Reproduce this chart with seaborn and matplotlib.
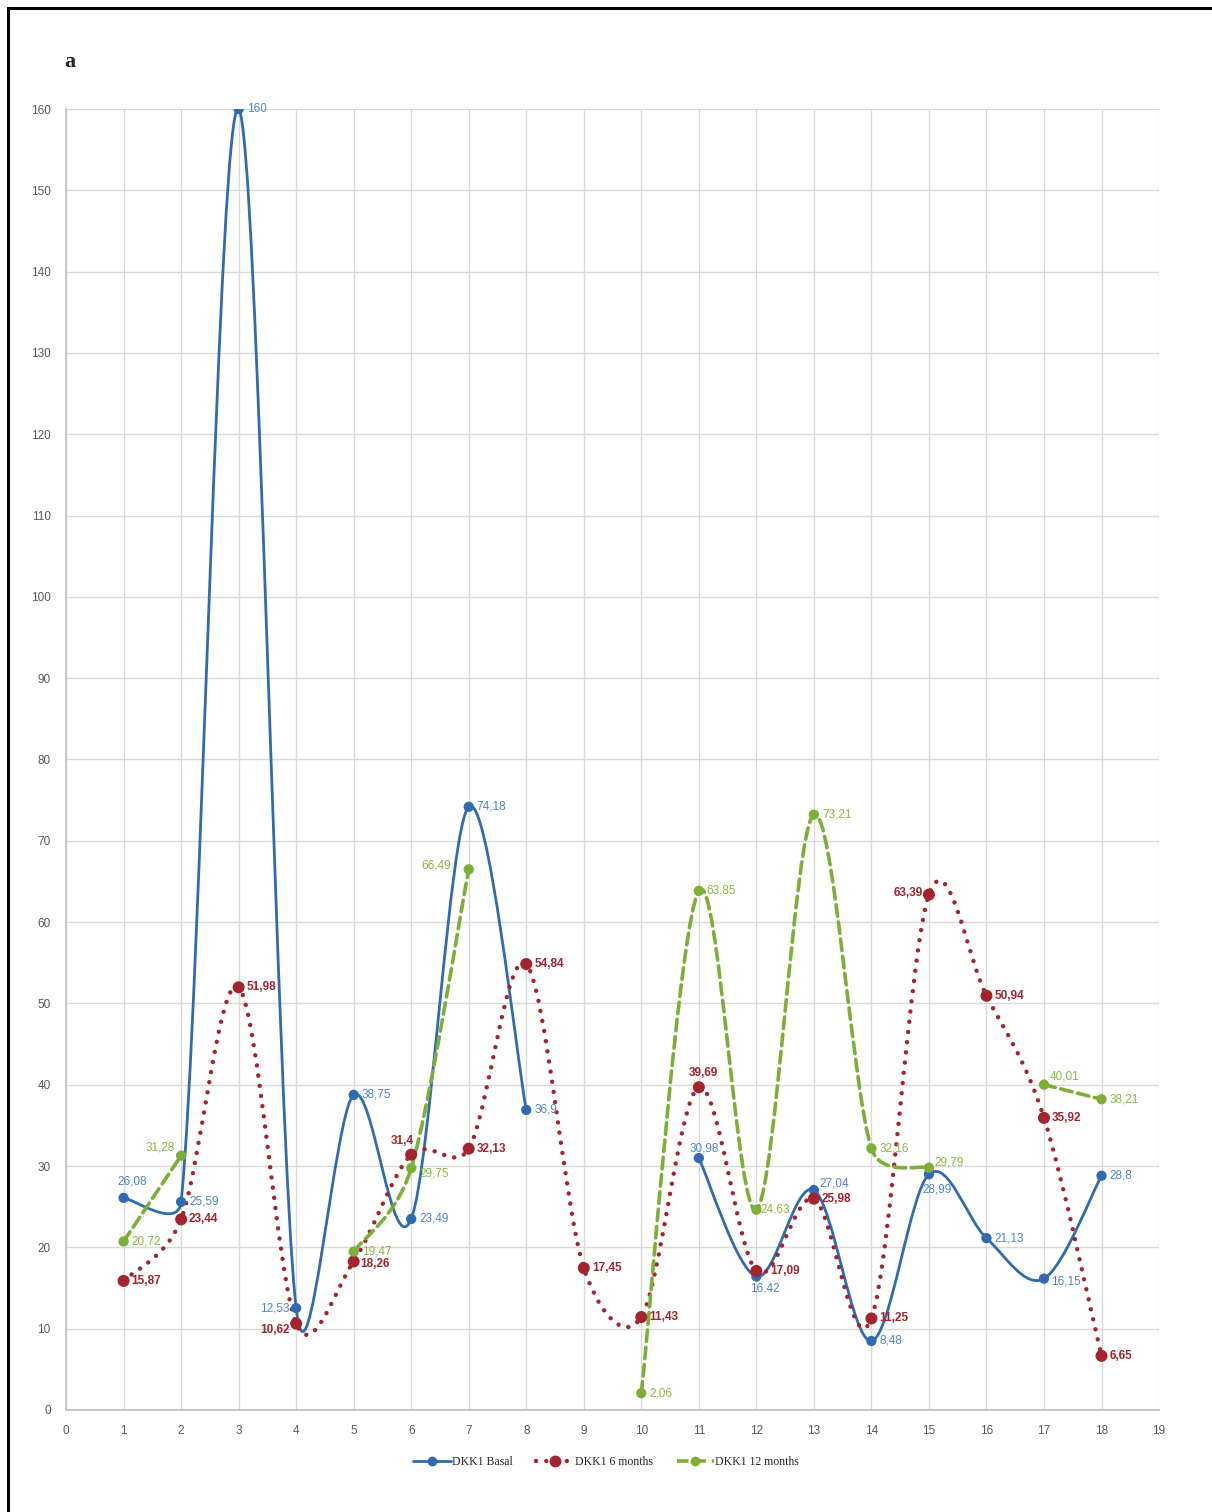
import numpy as np
import pandas as pd
import matplotlib
matplotlib.use('Agg')
import matplotlib.pyplot as plt
import seaborn as sns
from matplotlib.path import Path
from matplotlib.patches import PathPatch, Rectangle
from matplotlib.lines import Line2D

patients = list(range(1, 19))
basal = [26.08, 25.59, 160, 12.53, 38.75, 23.49, 74.18, 36.9, np.nan, np.nan,
         30.98, 16.42, 27.04, 8.48, 28.99, 21.13, 16.15, 28.8]
six_months = [15.87, 23.44, 51.98, 10.62, 18.26, 31.4, 32.13, 54.84, 17.45, 11.43,
              39.69, 17.09, 25.98, 11.25, 63.39, 50.94, 35.92, 6.65]
twelve_months = [20.72, 31.28, np.nan, np.nan, 19.47, 29.75, 66.49, np.nan, np.nan, 2.06,
                 63.85, 24.63, 73.21, 32.16, 29.79, np.nan, 40.01, 38.21]
series_names = ['DKK1 Basal', 'DKK1 6 months', 'DKK1 12 months']

# label placement (pixel offsets, alignment) - style only
basal_lab = {1: (9, 16, 'center'), 4: (-7, 0, 'right'), 11: (5, 10, 'center'),
             12: (9, -12, 'center'), 13: (6, 7, 'left'), 15: (8, -15, 'center'),
             17: (7, -3, 'left')}
six_lab = {4: (-6, -6, 'right'), 5: (7, -3, 'left'), 6: (-9, 14, 'center'),
           11: (5, 14, 'center'), 12: (14, 0, 'left'), 15: (-6, 2, 'right')}
twelve_lab = {2: (-6, 8, 'right'), 6: (8, -5, 'left'), 7: (-18, 4, 'right'),
              12: (4, 0, 'left'), 15: (6, 5, 'left'), 17: (6, 8, 'left')}

line_cols = ['#2F6AB3', '#A3242C', '#7BAF35']
label_cols = ['#4F84CB', '#A3242C', '#8AB83E']

df = pd.DataFrame({'patient': patients, series_names[0]: basal,
                   series_names[1]: six_months, series_names[2]: twelve_months})
long = df.melt(id_vars='patient', var_name='series', value_name='value').dropna()

sns.set_style('white')
plt.rcParams['font.family'] = ['Liberation Sans Narrow', 'Liberation Sans', 'DejaVu Sans']

fig = plt.figure(figsize=(12.12, 15.12), dpi=100)
ax = fig.add_axes([0.0545, 0.0675, 0.9018, 0.8604])
ax.set_xlim(0, 19)
ax.set_ylim(0, 160)


def smooth_path(xs, ys):
    # Excel-style smoothed line: bezier through the points, tangents
    # worked out on screen and capped at half the neighbouring segment
    segs, cur = [], []
    for x, y in zip(xs, ys):
        if np.isnan(y):
            if cur:
                segs.append(cur)
            cur = []
        else:
            cur.append((x, y))
    if cur:
        segs.append(cur)
    to_data = ax.transData.inverted()
    verts, codes = [], []
    for s in segs:
        p = ax.transData.transform(np.array(s, dtype=float))
        n = len(p)
        tang = []
        for i in range(n):
            prev = p[i - 1] if i > 0 else p[i]
            nxt = p[i + 1] if i + 1 < n else p[i]
            tang.append((nxt - prev) / 6)
        pts = [p[0]]
        cds = [Path.MOVETO]
        for i in range(n - 1):
            seg = np.linalg.norm(p[i + 1] - p[i]) / 2
            t1, t2 = tang[i], tang[i + 1]
            l1, l2 = np.linalg.norm(t1), np.linalg.norm(t2)
            if l1 > seg:
                t1 = t1 * seg / l1
            if l2 > seg:
                t2 = t2 * seg / l2
            pts += [p[i] + t1, p[i + 1] - t2, p[i + 1]]
            cds += [Path.CURVE4] * 3
        verts += list(to_data.transform(np.array(pts)))
        codes += cds
    return Path(verts, codes)


styles = [dict(linestyle='-', linewidth=2.0),
          dict(linestyle=(0, (0.01, 2.3)), linewidth=3.2),
          dict(linestyle=(0, (3.2, 1.6)), linewidth=2.6)]
values = [basal, six_months, twelve_months]
for vals, col, st in zip(values, line_cols, styles):
    patch = PathPatch(smooth_path(patients, vals), fill=False, edgecolor=col,
                      transform=ax.transData, capstyle='round', zorder=3, **st)
    ax.add_patch(patch)

sizes = {series_names[0]: 55, series_names[1]: 75, series_names[2]: 55}
sns.scatterplot(data=long, x='patient', y='value', hue='series', palette=line_cols,
                size='series', sizes=sizes, edgecolor='none', legend=False, ax=ax, zorder=4)

# data labels
for vals, col, overrides, bold in zip(values, label_cols, [basal_lab, six_lab, twelve_lab],
                                      [False, True, False]):
    for x, v in zip(patients, vals):
        if np.isnan(v):
            continue
        dx, dy, ha = overrides.get(x, (8, 0, 'left'))
        txt = f'{v:g}'.replace('.', ',')
        ax.annotate(txt, (x, v), xytext=(dx, dy), textcoords='offset pixels',
                    ha=ha, va='center', fontsize=8.5, color=col,
                    fontweight='bold' if bold else 'normal', zorder=5)

ax.set_xlim(0, 19)
ax.set_ylim(0, 160)
ax.set_xticks(range(0, 20))
ax.set_yticks(range(0, 161, 10))
ax.grid(True, color='#D9D9D9', linewidth=1.0)
ax.set_axisbelow(True)
for side in ['top', 'right']:
    ax.spines[side].set_visible(False)
for side in ['left', 'bottom']:
    ax.spines[side].set_color('#BFBFBF')
    ax.spines[side].set_linewidth(1.2)
ax.tick_params(axis='both', length=0, labelsize=8.5, labelcolor='#595959')
ax.tick_params(axis='y', pad=11)
ax.tick_params(axis='x', pad=11)
ax.set_xlabel('')
ax.set_ylabel('')

handles = [Line2D([], [], color=line_cols[0], lw=2.0, marker='o', markersize=6),
           Line2D([], [], color=line_cols[1], lw=3.2, linestyle=(0, (0.01, 2.3)),
                  dash_capstyle='round', marker='o', markersize=7.5),
           Line2D([], [], color=line_cols[2], lw=2.6, linestyle=(0, (3.2, 1.6)),
                  marker='o', markersize=6)]
fig.legend(handles, series_names, loc='center', bbox_to_anchor=(0.5, 0.033), ncol=3,
           frameon=False, handlelength=3.2, handletextpad=0.1, columnspacing=2.0,
           prop={'family': 'Liberation Serif', 'size': 8.5})

fig.text(0.053, 0.959, 'a', fontsize=16, fontweight='bold', family='Liberation Serif',
         va='center')

# outer frame around the panel
fig.patches.append(Rectangle((0.0065, -0.01), 0.995, 1.005, transform=fig.transFigure,
                             fill=False, edgecolor='black', linewidth=2.2))

fig.savefig('out.png', dpi=100)
